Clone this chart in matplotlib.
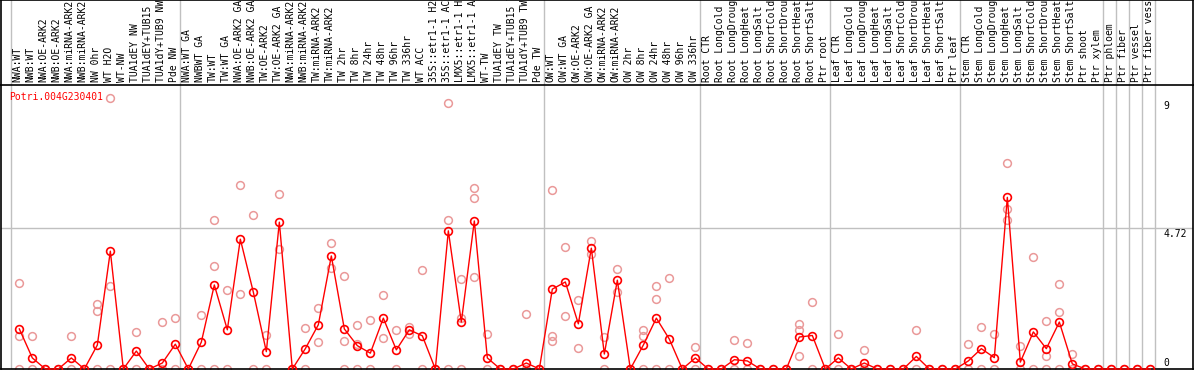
from matplotlib import pyplot as plt
import numpy as np

# sample labels, one column each
labels = [
    "NWA:WT", "NWB:WT", "NWA:OE-ARK2", "NWB:OE-ARK2", "NWA:miRNA-ARK2",
    "NWB:miRNA-ARK2", "NW 0hr", "WT H2O", "WT-NW", "TUA1dEY NW",
    "TUA1dEY+TUB15 NW", "TUA1dY+TUB9 NW", "Pde NW",
    "NWA:WT GA", "NWBWT GA", "TW:WT", "TW:WT GA", "NWA:OE-ARK2 GA",
    "NWB:OE-ARK2 GA", "TW:OE-ARK2", "TW:OE-ARK2 GA", "NWA:miRNA-ARK2",
    "NWB:miRNA-ARK2", "TW:miRNA-ARK2", "TW:miRNA-ARK2", "TW 2hr", "TW 8hr",
    "TW 24hr", "TW 48hr", "TW 96hr", "TW 336hr", "WT ACC",
    "35S::etr1-1 H2O", "35S::etr1-1 ACC", "LMX5::etr1-1 H2O",
    "LMX5::etr1-1 ACC", "WT-TW", "TUA1dEY TW", "TUA1dEY+TUB15 TW",
    "TUA1dY+TUB9 TW", "Pde TW",
    "OW:WT", "OW:WT GA", "OW:OE-ARK2", "OW:OE-ARK2 GA", "OW:miRNA-ARK2",
    "OW:miRNA-ARK2", "OW 2hr", "OW 8hr", "OW 24hr", "OW 48hr", "OW 96hr",
    "OW 336hr",
    "Root CTR", "Root LongCold", "Root LongDrought", "Root LongHeat",
    "Root LongSalt", "Root ShortCold", "Root ShortDrought", "Root ShortHeat",
    "Root ShortSalt", "Ptr root",
    "Leaf CTR", "Leaf LongCold", "Leaf LongDrought", "Leaf LongHeat",
    "Leaf LongSalt", "Leaf ShortCold", "Leaf ShortDrought", "Leaf ShortHeat",
    "Leaf ShortSalt", "Ptr leaf",
    "Stem CTR", "Stem LongCold", "Stem LongDrought", "Stem LongHeat",
    "Stem LongSalt", "Stem ShortCold", "Stem ShortDrought", "Stem ShortHeat",
    "Stem ShortSalt", "Ptr shoot", "Ptr xylem",
    "Ptr phloem", "Ptr fiber", "Ptr vessel", "Ptr fiber vessel",
]

group_sizes = [13, 28, 12, 10, 10, 11, 1, 1, 1, 1]

# mean expression per sample
means = [
    1.34, 0.37, 0, 0, 0.37, 0, 0.80, 3.94, 0, 0.60, 0, 0.20, 0.83,
    0, 0.90, 2.81, 1.31, 4.34, 2.57, 0.58, 4.91, 0, 0.68, 1.48, 3.78,
    1.34, 0.78, 0.53, 1.70, 0.64, 1.31, 1.11, 0, 4.62, 1.57, 4.95, 0.37,
    0, 0, 0.20, 0,
    2.67, 2.91, 1.51, 4.04, 0.50, 2.97, 0, 0.80, 1.70, 1.00, 0, 0.37,
    0, 0, 0.31, 0.27, 0, 0, 0, 1.07, 1.12, 0,
    0.37, 0, 0.20, 0, 0, 0, 0.42, 0, 0, 0,
    0.27, 0.68, 0.38, 5.74, 0.23, 1.24, 0.68, 1.57, 0.17, 0, 0,
    0, 0, 0, 0,
]

# individual replicates per sample
replicates = [
    [2.87, 1.12, 0], [1.10, 0], [0], [0], [1.10, 0], [0],
    [2.18, 1.94, 0], [9.06, 2.77, 0], [0], [1.24, 0], [0], [1.57, 0],
    [1.70, 0],
    [0], [1.80, 0], [4.99, 3.45, 0], [2.65, 0], [6.15, 2.50], [5.14, 0],
    [1.15, 0], [5.85, 4.02], [0], [1.38, 0], [2.04, 0.91], [4.22, 3.37],
    [3.12, 0.95, 0], [1.47, 0.85, 0], [1.65, 0], [2.48, 1.04], [1.31, 0],
    [1.42, 1.17], [3.31, 0], [0], [8.88, 4.99, 0], [3.01, 1.70, 0],
    [6.05, 5.71, 3.08], [1.17, 0], [0], [0], [1.85, 0], [0],
    [5.99, 1.09, 0.92], [4.08, 1.77], [2.31, 0.71], [4.28, 3.83],
    [1.06, 0], [3.34, 2.57], [0], [1.31, 1.10, 0], [2.77, 2.34, 0],
    [3.04, 0], [0], [0.74, 0],
    [0], [0], [0.98, 0], [0.87, 0], [0], [0], [0], [1.51, 1.31, 0.43],
    [2.24, 0], [0],
    [1.17, 0], [0], [0.63, 0], [0], [0], [0], [1.31, 0], [0], [0], [0],
    [0.83, 0], [1.40, 0], [1.17, 0], [6.88, 5.35, 4.99], [0.77, 0],
    [3.74, 0], [1.61, 0.43, 0], [2.85, 1.91, 0], [0.50, 0], [0], [0],
    [0], [0], [0], [0],
]

y_ticks = [0, 4.72, 9]
gene = "Potri.004G230401"

W, H = 1194, 370
fig = plt.figure(figsize=(W / 100, H / 100), dpi=100)
mono = "DejaVu Sans Mono"
grey = "#c0c0c0"

px = 13.0
x0 = -(19.33 - 1) / px
xlim = (x0, x0 + 1192 / px)
top_px = 85

ax = fig.add_axes([1 / W, 1 / H, 1192 / W, (369 - top_px) / H])
hd = fig.add_axes([1 / W, (H - top_px) / H, 1192 / W, top_px / H])

for a in (ax, hd):
    a.set_xlim(*xlim)
    a.set_xticks([])
    a.set_yticks([])
    for s in a.spines.values():
        s.set_linewidth(1.2)
        s.set_color("black")
ax.spines["top"].set_visible(False)
hd.set_ylim(0, 1)
ax.set_ylim(0, (369.3 - top_px) / 29.94)

# group separators
starts = np.concatenate([[0], np.cumsum(group_sizes)])
for s in starts:
    for a in (ax, hd):
        a.axvline(s - 0.67, color=grey, linewidth=1.0, zorder=1)

ax.axhline(y_ticks[1], color=grey, linewidth=1.0, zorder=1)

x = np.arange(len(means))

# replicates
rx = [i for i, r in enumerate(replicates) for _ in r]
ry = [v for r in replicates for v in r]
ax.plot(rx, ry, linestyle="none", marker="o", markersize=5.6,
        markerfacecolor="none", markeredgecolor="#ea9999",
        markeredgewidth=1.1, clip_on=False, zorder=2)

# means
ax.plot(x, means, color="red", linewidth=1.0, marker="o", markersize=5.6,
        markerfacecolor="none", markeredgecolor="red", markeredgewidth=1.2,
        clip_on=False, zorder=3)

ax.text(8 / 1192, 1 - 12 / (369 - top_px), gene, transform=ax.transAxes,
        color="red", fontsize=7, family=mono, ha="left", va="center")

tx = (1163 - 1) / 1192
trans = ax.get_yaxis_transform()
for t in y_ticks:
    lab = f"{t:g}"
    if t == 0:
        ax.text(tx, t + 0.04, lab, transform=trans, fontsize=7, family=mono,
                ha="left", va="bottom")
    else:
        ax.text(tx, t - 0.05, lab, transform=trans, fontsize=7, family=mono,
                ha="left", va="top")

for i, lab in enumerate(labels):
    hd.text(i - 0.12, 3 / top_px, lab, rotation=90, ha="center", va="bottom",
            fontsize=7, family=mono, clip_on=False)

fig.savefig("out.png", dpi=100)
